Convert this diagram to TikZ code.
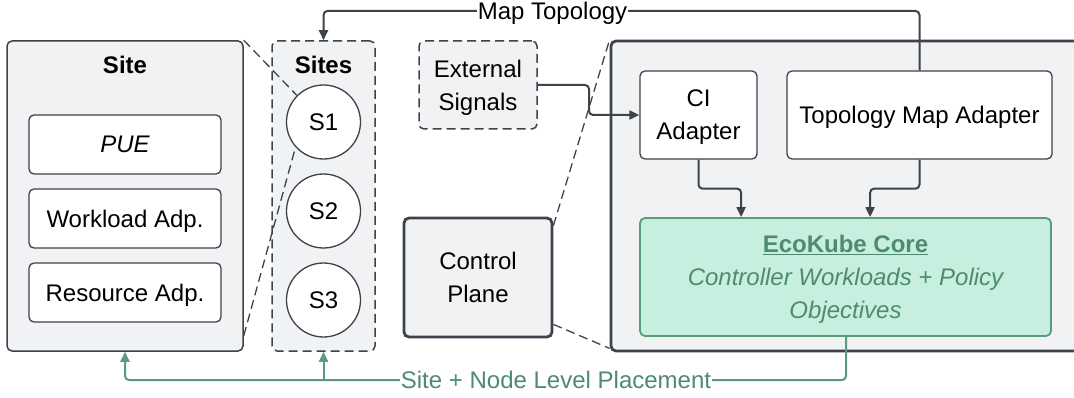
\documentclass[tikz,border=0pt]{standalone}
\usepackage{fontspec}
\setmainfont{Liberation Sans}
\usetikzlibrary{arrows.meta}
\definecolor{ink}{HTML}{3D424B}
\definecolor{panel}{HTML}{F1F2F4}
\definecolor{leaf}{HTML}{5A9A7D}
\definecolor{leaffill}{HTML}{C6EFDF}
\definecolor{leaftext}{HTML}{4E8B70}
\tikzset{
  txt/.style={font=\fontsize{24}{33}\selectfont, text=black, align=center, text depth=0pt},
  panelbox/.style={draw=ink, fill=panel, line width=1.5pt, rounded corners=5pt, inner sep=0pt},
  whitebox/.style={draw=ink, fill=white, line width=1.3pt, rounded corners=5pt, inner sep=0pt, txt},
  dashbox/.style={panelbox, dash pattern=on 9pt off 5pt},
  heavybox/.style={draw=ink, fill=panel, line width=2.8pt, rounded corners=5pt, inner sep=0pt, txt},
  sitecircle/.style={circle, draw=ink, fill=white, line width=1.3pt, minimum size=74pt, inner sep=0pt, txt},
  corebox/.style={draw=leaf, fill=leaffill, line width=1.8pt, rounded corners=5pt, inner sep=0pt, txt, text=leaftext},
  link/.style={draw=ink, line width=2pt, rounded corners=4pt, -{Triangle[length=10pt,width=9pt]}},
  greenlink/.style={draw=leaf, line width=2pt, rounded corners=4pt, -{Triangle[length=10pt,width=9pt]}},
  zoomline/.style={draw=ink, line width=1.3pt, dash pattern=on 9pt off 5pt},
}
\begin{document}
\begin{tikzpicture}[x=1pt,y=-1pt]
\useasboundingbox (0,0) rectangle (1074,398);
\clip (0,0) rectangle (1074,398);

% left: one site in detail
\node[panelbox, minimum width=236pt, minimum height=310pt] (site) at (125,196) {};
\node[txt, font=\fontsize{24}{33}\selectfont\bfseries] (sitetitle) at (125,65) {Site};
\node[whitebox, minimum width=192pt, minimum height=59pt] (pue) at (125,144.5) {\itshape PUE};
\node[whitebox, minimum width=192pt, minimum height=59pt] (wla) at (125,218.5) {Workload Adp.};
\node[whitebox, minimum width=192pt, minimum height=59pt] (rsa) at (125,292.5) {Resource Adp.};

% the set of sites
\node[dashbox, minimum width=103pt, minimum height=310pt] (sites) at (323.5,196) {};
\node[txt, font=\fontsize{24}{33}\selectfont\bfseries] (sitestitle) at (323.5,65) {Sites};
\node[sitecircle] (s1) at (323.5,122) {S1};
\node[sitecircle] (s2) at (323.5,211) {S2};
\node[sitecircle] (s3) at (323.5,300) {S3};

% external input and control plane
\node[dashbox, txt, minimum width=118pt, minimum height=88pt] (ext) at (478,85) {External\\Signals};
\node[heavybox, minimum width=148pt, minimum height=119pt] (ctrl) at (478,277.5) {Control\\Plane};

% expanded control plane
\node[draw=ink, fill=panel, line width=2.8pt, rounded corners=5pt, minimum width=500pt, minimum height=310pt, inner sep=0pt] (cont) at (861,196) {};
\node[whitebox, minimum width=117pt, minimum height=88pt] (ci) at (698.5,115) {CI\\Adapter};
\node[whitebox, minimum width=265pt, minimum height=88pt] (topo) at (919.5,115) {Topology Map Adapter};
\node[corebox, minimum width=411pt, minimum height=118pt] (core) at (845.5,277)
  {\textbf{\underline{EcoKube Core}}\\\itshape Controller Workloads + Policy\\\itshape Objectives};

% zoom guides
\draw[zoomline] (site.north east) -- (s1.135);
\draw[zoomline] ([yshift=16pt]site.south east) -- (s1.222);
\draw[zoomline] ([yshift=-9pt]ctrl.north east) -- (cont.north west);
\draw[zoomline] ([yshift=14pt]ctrl.south east) -- ([yshift=4pt]cont.south west);

% signal flow
\coordinate (extbend) at (589,85);
\draw[link] (ext.east) -- (extbend) |- (ci.west);
\draw[link] (ci.south) -- ++(0,29) -| ([xshift=102pt]core.north west);
\draw[link] (topo.south) -- ++(0,29) -| ([xshift=231pt]core.north west);

% topology feedback
\coordinate (maptop) at (919.5,11);
\draw[link] (topo.north) -- (maptop) -| (sites.north);
\node[txt, fill=white, inner sep=1pt] (maplabel) at (552.5,11) {Map Topology};

% placement feedback
\coordinate (placebend) at (846,380);
\coordinate (sitesjoin) at (323.5,380);
\draw[greenlink] (core.south -| placebend) -- (placebend) -| (site.south);
\draw[greenlink] (sitesjoin) -- (sites.south);
\node[txt, text=leaftext, fill=white, inner sep=1pt] (placelabel) at (556,380) {Site + Node Level Placement};
\end{tikzpicture}
\end{document}
